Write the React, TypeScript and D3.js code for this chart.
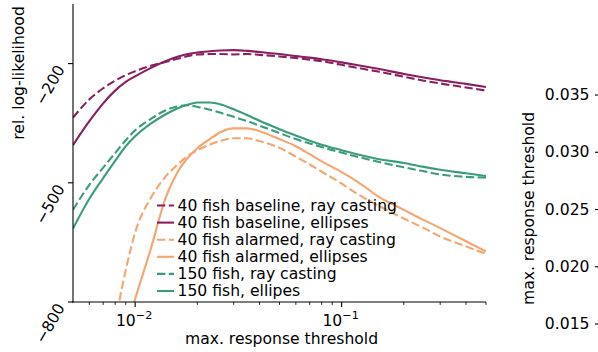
import React, { useEffect, useRef } from "react";
import * as d3 from "d3";

// ---- data ----
const thresholds = [0.005, 0.006, 0.007, 0.008, 0.009, 0.01, 0.012, 0.014, 0.016, 0.018, 0.02, 0.023, 0.026, 0.03, 0.035, 0.04, 0.05, 0.06, 0.07, 0.08, 0.1, 0.12, 0.15, 0.2, 0.25, 0.3, 0.4, 0.5];

const baselineRay = [-336, -290, -262, -243, -229, -219, -205, -196, -188, -181, -177, -176, -176, -177, -176, -178, -182, -186, -190, -194, -203, -211, -220, -233, -243, -250, -260, -268];
const baselineEll = [-405, -345, -300, -268, -246, -232, -210, -194, -183, -176, -172, -169, -167, -166, -168, -171, -176, -181, -185, -189, -197, -204, -213, -226, -235, -242, -251, -259];
const alarmedRay = [null, null, -1000, -850, -720, -625, -535, -485, -455, -432, -418, -404, -394, -388, -388, -395, -412, -434, -454, -472, -502, -529, -557, -590, -614, -635, -660, -679];
const alarmedEll = [null, null, null, -960, -870, -792, -660, -540, -474, -437, -413, -390, -372, -363, -363, -370, -390, -408, -428, -446, -473, -498, -534, -568, -594, -614, -647, -673];
const fish150Ray = [-568, -505, -462, -425, -393, -368, -338, -318, -308, -305, -309, -316, -324, -334, -345, -356, -375, -390, -401, -410, -424, -435, -447, -461, -471, -479, -485, -487];
const fish150Ell = [-615, -540, -488, -445, -408, -383, -350, -328, -313, -303, -298, -298, -303, -315, -330, -344, -365, -381, -394, -404, -418, -429, -440, -450, -460, -467, -476, -483];

const seriesLabels = [
  "40 fish baseline, ray casting",
  "40 fish baseline, ellipses",
  "40 fish alarmed, ray casting",
  "40 fish alarmed, ellipses",
  "150 fish, ray casting",
  "150 fish, ellipes",
];
const seriesValues = [baselineRay, baselineEll, alarmedRay, alarmedEll, fish150Ray, fish150Ell];

const yTicks = [-800, -500, -200];
const xMajorTicks = [0.01, 0.1];
const xMajorExponents = ["−2", "−1"];
const xMinorTicks = [0.006, 0.007, 0.008, 0.009, 0.02, 0.03, 0.04, 0.05, 0.06, 0.07, 0.08, 0.09, 0.2, 0.3, 0.4, 0.5];
const rightTicks = [0.015, 0.02, 0.025, 0.03, 0.035];

// ---- styles ----
const PURPLE = "#8a1e5f";
const ORANGE = "#f7a46f";
const GREEN = "#3b9b7d";
const seriesColors = [PURPLE, PURPLE, ORANGE, ORANGE, GREEN, GREEN];
const seriesDashed = [true, false, true, false, true, false];
const FONT = "DejaVu Sans, sans-serif";
const FS = 15.6;
const DASH = "8.3,3.5";

export default function App() {
  const ref = useRef<SVGSVGElement | null>(null);

  useEffect(() => {
    const svg = d3.select(ref.current);
    svg.selectAll("*").remove();

    const left = 73, right = 486, top = 4, bottom = 302;
    const x = d3.scaleLog().domain([0.005, 0.5]).range([left, right]);
    const y = d3.scaleLinear().domain([-800, -50]).range([bottom, top]);

    svg.append("defs").append("clipPath").attr("id", "plotclip")
      .append("rect").attr("x", left).attr("y", top).attr("width", right - left).attr("height", bottom - top);

    const g = svg.append("g").attr("clip-path", "url(#plotclip)");
    const line = d3.line<[number, number | null]>()
      .defined((d) => d[1] !== null)
      .x((d) => x(d[0]))
      .y((d) => y(d[1] as number))
      .curve(d3.curveMonotoneX);

    seriesValues.forEach((vals, i) => {
      const pts = thresholds.map((t, j) => [t, vals[j]] as [number, number | null]);
      g.append("path")
        .attr("d", line(pts) as string)
        .attr("fill", "none")
        .attr("stroke", seriesColors[i])
        .attr("stroke-width", 2.1)
        .attr("stroke-dasharray", seriesDashed[i] ? DASH : null);
    });

    const ax = svg.append("g").attr("font-family", FONT).attr("font-size", FS).attr("fill", "#000");

    // spines
    ax.append("line").attr("x1", left).attr("x2", left).attr("y1", top).attr("y2", bottom + 0.55).attr("stroke", "#000").attr("stroke-width", 1.1);
    ax.append("line").attr("x1", left - 0.55).attr("x2", right).attr("y1", bottom).attr("y2", bottom).attr("stroke", "#000").attr("stroke-width", 1.1);

    // y ticks
    yTicks.forEach((v) => {
      const yy = y(v);
      ax.append("line").attr("x1", left - 5).attr("x2", left).attr("y1", yy).attr("y2", yy).attr("stroke", "#000").attr("stroke-width", 1.1);
      ax.append("text")
        .attr("transform", `translate(${left - 12},${yy + 3}) rotate(-60)`)
        .attr("text-anchor", "end")
        .attr("dominant-baseline", "central")
        .text(d3.format("d")(v).replace("-", "−"));
    });

    // x major ticks
    xMajorTicks.forEach((v, i) => {
      const xx = x(v);
      ax.append("line").attr("x1", xx).attr("x2", xx).attr("y1", bottom).attr("y2", bottom + 5).attr("stroke", "#000").attr("stroke-width", 1.1);
      const t = ax.append("text").attr("x", xx - 1).attr("y", bottom + 23.5).attr("text-anchor", "middle");
      t.append("tspan").text("10");
      t.append("tspan").attr("dy", -6.5).attr("font-size", FS * 0.72).text(xMajorExponents[i]);
    });
    xMinorTicks.forEach((v) => {
      const xx = x(v);
      ax.append("line").attr("x1", xx).attr("x2", xx).attr("y1", bottom).attr("y2", bottom + 2.9).attr("stroke", "#000").attr("stroke-width", 0.85);
    });

    // axis labels
    ax.append("text").attr("x", (left + right) / 2 + 2).attr("y", 344).attr("text-anchor", "middle").text("max. response threshold");
    ax.append("text").attr("transform", `translate(23.5,73) rotate(-90)`).attr("text-anchor", "middle").text("rel. log-likelihood");

    // legend
    const lg = svg.append("g").attr("font-family", FONT).attr("font-size", FS);
    seriesLabels.forEach((lab, i) => {
      const yy = 205.5 + i * 17.1;
      lg.append("line").attr("x1", 157).attr("x2", 174).attr("y1", yy).attr("y2", yy)
        .attr("stroke", seriesColors[i]).attr("stroke-width", 2.1)
        .attr("stroke-dasharray", seriesDashed[i] ? DASH : null);
      lg.append("text").attr("x", 177.5).attr("y", yy).attr("dominant-baseline", "central").text(lab);
    });

    // partial right subplot axis
    const yr = d3.scaleLinear().domain([0.015, 0.035]).range([324, 95]);
    const rx = 600;
    rightTicks.forEach((v) => {
      const yy = yr(v);
      ax.append("line").attr("x1", rx - 5).attr("x2", rx).attr("y1", yy).attr("y2", yy).attr("stroke", "#000").attr("stroke-width", 1.1);
      ax.append("text").attr("x", rx - 10.5).attr("y", yy).attr("text-anchor", "end").attr("dominant-baseline", "central").text(d3.format(".3f")(v));
    });
    ax.append("text").attr("transform", `translate(533.5,208.5) rotate(-90)`).attr("text-anchor", "middle").text("max. response threshold");
  }, []);

  return (
    <svg ref={ref} width={598} height={352} style={{ position: "absolute", left: 0, top: 0, background: "#fff" }} />
  );
}
